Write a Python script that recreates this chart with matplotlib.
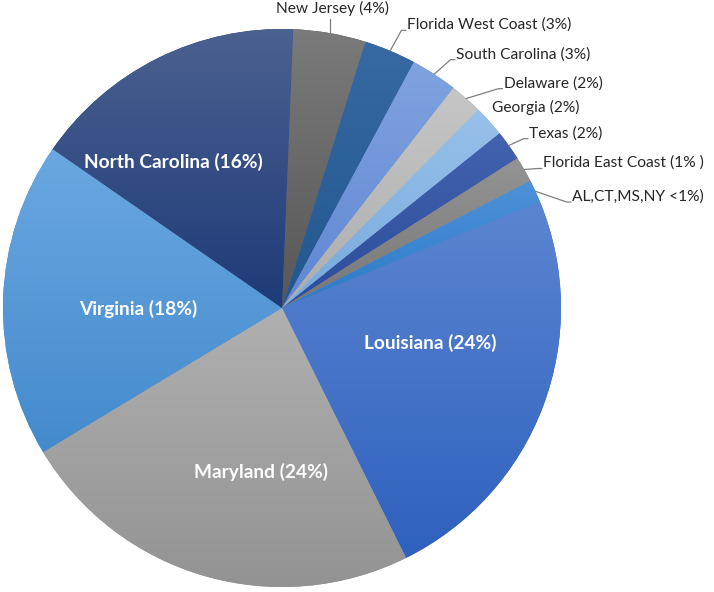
import numpy as np
import matplotlib.pyplot as plt
from matplotlib.colors import to_rgb

# Parts du total par État (sens horaire depuis le haut)
states = ["New Jersey", "Florida West Coast", "South Carolina", "Delaware",
          "Georgia", "Texas", "Florida East Coast", "AL,CT,MS,NY",
          "Louisiana", "Maryland", "Virginia", "North Carolina"]
shares = [4.2, 3.0, 2.7, 1.9, 1.8, 1.75, 1.5, 1.3, 23.9, 23.7, 18.3, 16.0]
labels = ["New Jersey (4%)", "Florida West Coast (3%)", "South Carolina (3%)",
          "Delaware (2%)", "Georgia (2%)", "Texas (2%)", "Florida East Coast (1% )",
          "AL,CT,MS,NY <1%)", "Louisiana (24%)", "Maryland (24%)",
          "Virginia (18%)", "North Carolina (16%)"]

# dégradés (haut clair -> bas foncé)
tops = ["#7a7a7a", "#3769a3", "#80a3df", "#c6c6c6", "#98c1ea", "#4262b0",
        "#949494", "#4c92d9", "#5c85d1", "#b0b0b0", "#6ba8e1", "#4b6190"]
bottoms = ["#575757", "#22578e", "#5f86d3", "#adadad", "#77a9de", "#2c4d9a",
           "#777777", "#2e7ac7", "#2e61be", "#939393", "#438acd", "#1e3a78"]

# position des étiquettes (coord. du cercle unité), dedans / dehors
inner = {"Louisiana": (0.53, -0.125), "Maryland": (-0.075, -0.588),
         "Virginia": (-0.515, -0.004), "North Carolina": (-0.39, 0.523)}
outer = {"New Jersey": (0.18, 1.072), "Florida West Coast": (0.448, 1.015),
         "South Carolina": (0.624, 0.91), "Delaware": (0.795, 0.806),
         "Georgia": (0.753, 0.717), "Texas": (0.886, 0.627),
         "Florida East Coast": (0.936, 0.52), "AL,CT,MS,NY": (1.04, 0.4)}
leader = {"Georgia": False}

plt.rcParams['font.family'] = ['Lato', 'DejaVu Sans']

W, H, R = 714, 592, 279.0
cx, cy = 282, 308
fig = plt.figure(figsize=(W/100, H/100), dpi=100)
ax = fig.add_axes([0, 0, 1, 1])

wedges, _ = ax.pie(shares, startangle=87.7, counterclock=False,
                   colors=bottoms, wedgeprops=dict(linewidth=0))

grad = np.linspace(0, 1, 256)[:, None]
for w, c0, c1 in zip(wedges, tops, bottoms):
    a, b = np.array(to_rgb(c0)), np.array(to_rgb(c1))
    img = (a + (b - a) * grad)[:, None, :]
    ext = w.get_path().get_extents()
    im = ax.imshow(img, extent=(ext.x0, ext.x1, ext.y0, ext.y1), origin='upper',
                   aspect='auto', interpolation='bilinear', zorder=2)
    im.set_clip_path(w)

for w, st, lab in zip(wedges, states, labels):
    if st in inner:
        x, y = inner[st]
        ax.text(x, y, lab, color='white', fontsize=13.8, fontweight='bold',
                ha='center', va='center', zorder=5)
        continue
    x, y = outer[st]
    ha = 'center' if st == "New Jersey" else 'left'
    ax.text(x, y, lab, color='#262626', fontsize=11.2, ha=ha, va='center', zorder=5)
    if not leader.get(st, True):
        continue
    th = np.deg2rad((w.theta1 + w.theta2) / 2)
    ex, ey = np.cos(th), np.sin(th)
    if st == "New Jersey":
        ax.plot([ex, ex], [ey, y - 0.035], color='#7f7f7f', lw=0.9, zorder=4)
    else:
        yb = y - 0.02
        ax.plot([ex, x - 0.02, x - 0.005], [ey, yb, yb], color='#7f7f7f',
                lw=0.9, zorder=4)

ax.set_xlim((0 - cx) / R, (W - cx) / R)
ax.set_ylim((cy - H) / R, cy / R)
ax.set_aspect('auto')
ax.axis('off')

plt.savefig("out.png", dpi=100)
